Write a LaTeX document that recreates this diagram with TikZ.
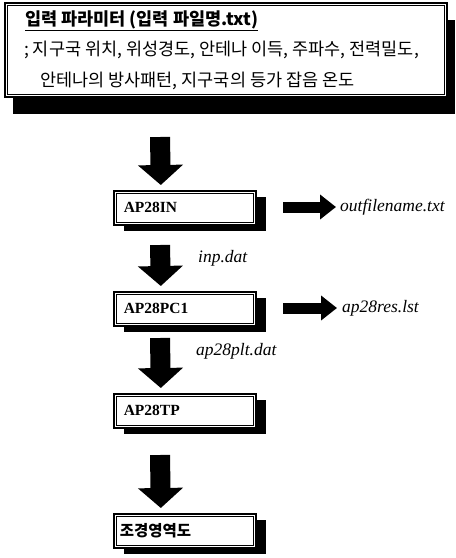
\documentclass[tikz,border=0pt]{standalone}
\usepackage{fontspec}
\setmainfont{Liberation Serif}
\newfontfamily\kr{Noto Sans CJK KR}
\usetikzlibrary{shadows,arrows.meta}
\tikzset{
  frame/.style={draw=black, line width=1.6pt, fill=white, inner sep=0pt},
  topframe/.style={frame, drop shadow={shadow xshift=8pt, shadow yshift=-17pt, fill=black, opacity=1}},
  procbox/.style={frame, minimum width=142pt, minimum height=34pt, text width=122pt, align=left,
     font=\fontsize{15.5}{17}\selectfont\bfseries,
     drop shadow={shadow xshift=10pt, shadow yshift=-6pt, fill=black, opacity=1}},
  innerline/.style={draw=black, line width=0.7pt},
  bigarrow/.style={draw=black, line width=20pt, -{Triangle[length=20pt,width=44pt]}},
  smallarrow/.style={draw=black, line width=11pt, -{Triangle[length=16pt,width=24pt]}},
  krtext/.style={anchor=west, inner sep=0pt, font=\kr\fontsize{17.5}{20}\selectfont},
  filelabel/.style={anchor=west, inner sep=0pt, font=\fontsize{17.5}{19}\selectfont\itshape},
}
\newcommand{\innerframe}[1]{\draw[innerline] ([shift={(3pt,-3pt)}]#1.north west) rectangle ([shift={(-3pt,3pt)}]#1.south east);}
\begin{document}
\begin{tikzpicture}[x=1pt,y=-1pt]
\useasboundingbox (0,0) rectangle (456,558);
% top box
\node[topframe, minimum width=442pt, minimum height=94pt] (top) at (226,50) {};
\innerframe{top}
\node[krtext, font=\kr\fontsize{17.5}{20}\selectfont\bfseries] (title) at (25,21) {\underline{입력 파라미터 (입력 파일명.txt)}};
\node[krtext] (line2) at (24,50) {; 지구국 위치, 위성경도, 안테나 이득, 주파수, 전력밀도,};
\node[krtext] (line3) at (40,81) {안테나의 방사패턴, 지구국의 등가 잡음 온도};
% process boxes
\node[procbox, anchor=north west] (in) at (113,190) {AP28IN};
\innerframe{in}
\node[procbox, anchor=north west] (pc) at (113,291) {AP28PC1};
\innerframe{pc}
\node[procbox, anchor=north west] (tp) at (113,393) {AP28TP};
\innerframe{tp}
\node[procbox, anchor=north west, text width=130pt, font=\kr\fontsize{15.5}{17}\selectfont\bfseries] (map) at (113,513) {조경영역도};
\innerframe{map}
% down arrows
\draw[bigarrow] (160,137) -- ([xshift=-24pt,yshift=5pt]in.north);
\draw[bigarrow] (160,245) -- ([xshift=-24pt,yshift=5pt]pc.north);
\draw[bigarrow] (160,338) -- ([xshift=-24pt,yshift=5pt]tp.north);
\draw[bigarrow] (160,455) -- ([xshift=-24pt,yshift=5pt]map.north);
% labels
\node[filelabel] (inp) at (198,258) {inp.dat};
\node[filelabel] (plt) at (196,351) {ap28plt.dat};
\node[filelabel] (out1) at (340,207) {outfilename.txt};
\node[filelabel] (out2) at (342,308) {ap28res.lst};
\coordinate (s1) at (283,207);
\coordinate (s2) at (283,308);
\draw[smallarrow] (s1) -- ([xshift=-4pt]out1.west);
\draw[smallarrow] (s2) -- ([xshift=-5pt]out2.west);
\end{tikzpicture}
\end{document}
